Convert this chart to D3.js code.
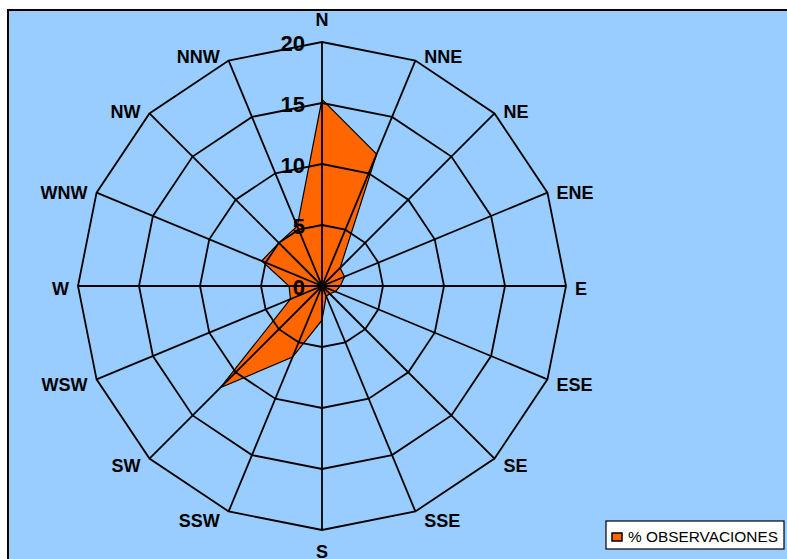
<!DOCTYPE html>
<html>
<head>
<meta charset="utf-8">
<script src="https://cdn.jsdelivr.net/npm/d3@7"></script>
<style>
  html, body { margin: 0; padding: 0; background: #ffffff; }
  svg { display: block; }
  text { font-family: Arial, "Liberation Sans", sans-serif; }
</style>
</head>
<body>
<svg id="chart" width="787" height="559"></svg>
<script>
// Wind directions, clockwise from north
const directions = ["N", "NNE", "NE", "ENE", "E", "ESE", "SE", "SSE",
                    "S", "SSW", "SW", "WSW", "W", "WNW", "NW", "NNW"];
// Share of observations per direction (%)
const observations = [15.3, 11.7, 2.1, 2.0, 1.5, 1.2, 0.9, 0.9,
                      2.8, 6.3, 11.8, 2.8, 2.7, 5.35, 5.0, 5.3];
// Radial axis ticks
const radialTicks = [0, 5, 10, 15, 20];
const seriesName = "% OBSERVACIONES";

const svg = d3.select("#chart");
const W = 787, H = 559;
const cx = 322, cy = 286;

// Plot area background with frame
svg.append("rect")
  .attr("x", 8).attr("y", 10)
  .attr("width", W + 20).attr("height", H + 20)
  .attr("fill", "#99CCFF")
  .attr("stroke", "#000").attr("stroke-width", 2);

const r = d3.scaleLinear().domain([0, 20]).range([0, 244]);
const angle = d3.scalePoint().domain(directions).range([0, 2 * Math.PI * (15 / 16)]);

const g = svg.append("g").attr("transform", `translate(${cx},${cy})`);

function pt(dir, v) {
  const a = angle(dir);
  return [r(v) * Math.sin(a), -r(v) * Math.cos(a)];
}

// Data polygon
const line = d3.line().curve(d3.curveLinearClosed);
g.append("path")
  .attr("d", line(directions.map((d, i) => pt(d, observations[i]))))
  .attr("fill", "#FF6600")
  .attr("stroke", "#000")
  .attr("stroke-width", 1.2)
  .attr("stroke-linejoin", "miter");

// Grid rings (polygons)
radialTicks.filter(t => t > 0).forEach(t => {
  g.append("path")
    .attr("d", line(directions.map(d => pt(d, t))))
    .attr("fill", "none")
    .attr("stroke", "#000")
    .attr("stroke-width", 1.8);
});

// Spokes
directions.forEach(d => {
  const [x, y] = pt(d, 20);
  g.append("line")
    .attr("x1", 0).attr("y1", 0)
    .attr("x2", x).attr("y2", y)
    .attr("stroke", "#000")
    .attr("stroke-width", 1.8);
});

// Radial tick labels along the north axis
g.selectAll("text.tick")
  .data(radialTicks)
  .join("text")
  .attr("class", "tick")
  .attr("x", -17)
  .attr("y", d => -r(d) + 3)
  .attr("text-anchor", "end")
  .attr("dominant-baseline", "middle")
  .attr("font-size", 22)
  .attr("font-weight", "bold")
  .attr("fill", "#000")
  .text(d => d);

// Direction labels: set beside the outer ring's vertices
const dirLabels = g.selectAll("text.dir")
  .data(directions)
  .join("text")
  .attr("class", "dir")
  .attr("font-size", 18)
  .attr("font-weight", "bold")
  .attr("fill", "#000")
  .attr("text-anchor", "middle")
  .attr("dominant-baseline", "central")
  .text(d => d);

dirLabels.each(function(d) {
  const a = angle(d);
  const sx = Math.sin(a), sy = -Math.cos(a);
  const w = this.getComputedTextLength();
  const [tx, ty] = pt(d, 20);
  let x, y;
  if (Math.abs(sx) < 1e-6) {
    x = tx;
    y = ty + sy * 22;
  } else {
    x = tx + Math.sign(sx) * (w / 2 + 9);
    y = ty + 3 + sy * 7;
  }
  d3.select(this).attr("x", x).attr("y", y);
});

// Legend
const lg = svg.append("g").attr("transform", "translate(606,521)");
lg.append("rect")
  .attr("width", 178).attr("height", 28)
  .attr("fill", "#fff")
  .attr("stroke", "#000").attr("stroke-width", 1.2);
lg.append("rect")
  .attr("x", 6).attr("y", 12)
  .attr("width", 10).attr("height", 8)
  .attr("fill", "#FF6600")
  .attr("stroke", "#000").attr("stroke-width", 1.5);
lg.append("text")
  .attr("x", 22).attr("y", 21)
  .attr("font-size", 15.5)
  .attr("fill", "#000")
  .attr("textLength", 150)
  .attr("lengthAdjust", "spacingAndGlyphs")
  .text(seriesName);
</script>
</body>
</html>
